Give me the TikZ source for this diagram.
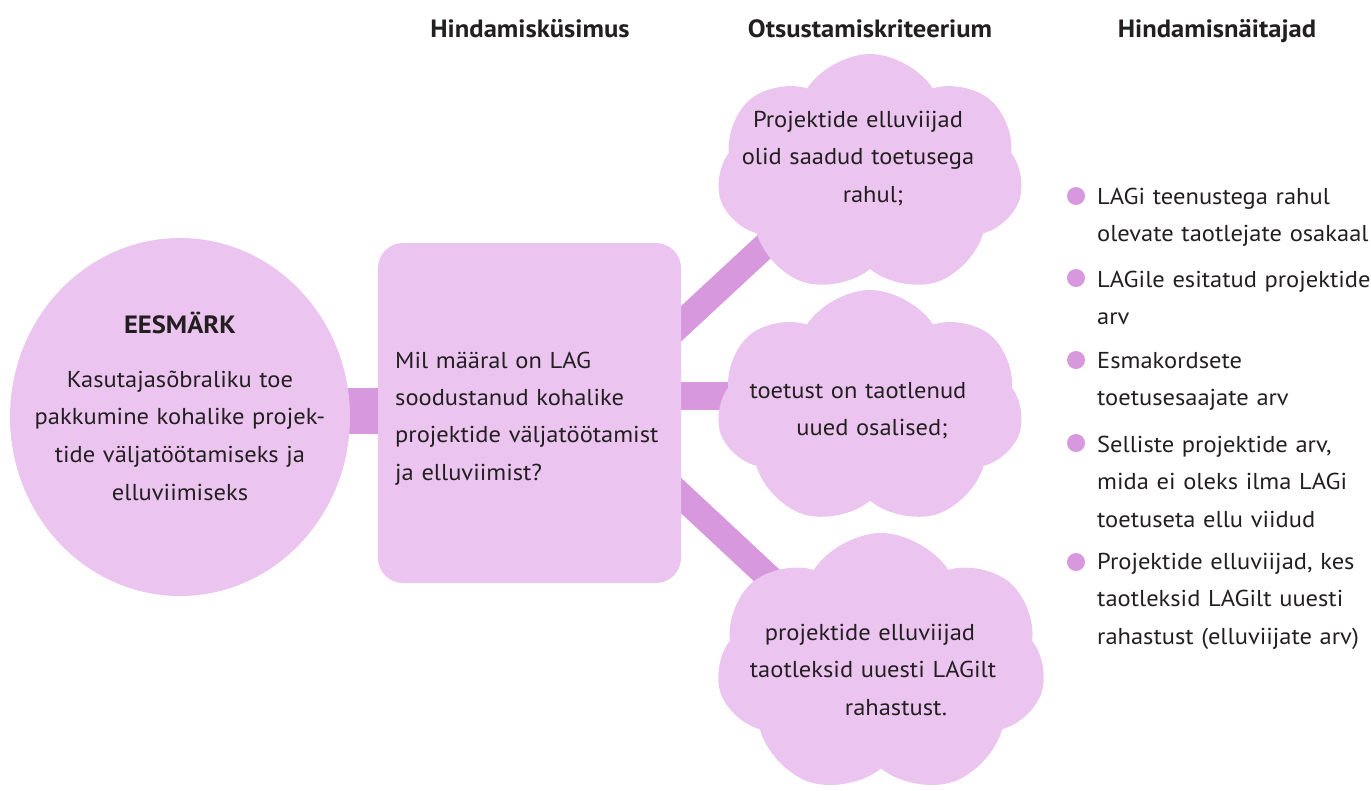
\documentclass[tikz,border=0pt]{standalone}
\usepackage{fontspec}
\setmainfont{PT Sans}[FakeStretch=1.065]
\usetikzlibrary{shapes.geometric,shapes.symbols,backgrounds}
\definecolor{lightpink}{HTML}{EBC5F0}
\definecolor{darkpink}{HTML}{D898DE}
\definecolor{ink}{HTML}{231F20}
\begin{document}
\begin{tikzpicture}[x=1pt,y=-1pt,
  shapefill/.style={fill=lightpink, draw=none, inner sep=0pt},
  conn/.style={draw=darkpink, line width=26pt},
  txt/.style={font=\fontsize{23}{37.5}\selectfont, text=ink, inner sep=0pt},
  hdr/.style={font=\fontsize{25}{30}\selectfont\bfseries, text=ink, inner sep=0pt},
  bulletdot/.style={circle, fill=darkpink, minimum size=18pt, inner sep=0pt},
  item/.style={txt, anchor=base west, text width=300pt, align=left},
  cloudbox/.style={cloud, cloud puffs=7, cloud puff arc=115, shapefill, aspect=1.3}
]
\useasboundingbox (0,0) rectangle (1371,790);

% headers
\node[hdr, anchor=base] (h1) at (530,37) {Hindamisküsimus};
\node[hdr, anchor=base] (h2) at (870,37) {Otsustamiskriteerium};
\node[hdr, anchor=base] (h3) at (1217,37) {Hindamisnäitajad};

% shapes
\node[ellipse, shapefill, minimum width=340pt, minimum height=358pt] (goal) at (180,417) {};
\node[rectangle, rounded corners=25pt, shapefill, minimum width=303pt, minimum height=340pt] (q) at (529.5,413) {};
\node[cloudbox, minimum width=306pt, minimum height=240pt] (c1) at (870,174) {};
\node[cloudbox, minimum width=306pt, minimum height=236pt] (c2) at (870,408) {};
\node[cloudbox, minimum width=329pt, minimum height=262pt] (c3) at (881,664) {};

% connectors
\begin{scope}[on background layer]
\draw[conn, line width=46pt] ([yshift=6pt]goal.center) -- ([yshift=2pt]q.center);
\draw[conn] ([xshift=70.5pt,yshift=14pt]q.center) -- ([xshift=-20pt,yshift=7pt]c1.center);
\draw[conn, line width=28pt] ([xshift=70.5pt,yshift=17pt]q.center) -- ([xshift=-20pt,yshift=12pt]c2.center);
\draw[conn] ([xshift=70.5pt,yshift=-7pt]q.center) -- ([xshift=-31pt,yshift=11pt]c3.center);
\end{scope}

% texts in shapes
\node[txt, anchor=base, text width=330pt, align=center, font=\fontsize{23}{37.7}\selectfont] (goalt) at (180,333)
  {{\fontsize{25}{30}\selectfont\bfseries EESMÄRK}\\[16.3pt]Kasutajasõbraliku toe\\pakkumine kohalike projek-\\tide väljatöötamiseks ja\\elluviimiseks};
\node[txt, anchor=base west, text width=290pt, align=left, font=\fontsize{23}{37.4}\selectfont] (qt) at (395,368)
  {Mil määral on LAG\\soodustanud kohalike\\projektide väljatöötamist\\ja elluviimist?};
\node[txt, anchor=base, text width=290pt, align=center] (c1t) at (858,127)
  {Projektide elluviijad\\olid saadud toetusega\\\hspace*{30pt}rahul;};
\node[txt, anchor=base, text width=290pt, align=center] (c2t) at (858,398)
  {toetust on taotlenud\\\hspace*{28pt}uued osalised;};
\node[txt, anchor=base, text width=300pt, align=center] (c3t) at (870,640)
  {projektide elluviijad\\\hspace*{6pt}taotleksid uuesti LAGilt\\\hspace*{52pt}rahastust.};

% indicator list
\node[bulletdot] (b1) at (1076,196) {};
\node[bulletdot] (b2) at (1076,278) {};
\node[bulletdot] (b3) at (1076,360) {};
\node[bulletdot] (b4) at (1076,443) {};
\node[bulletdot] (b5) at (1076,562) {};
\node[item] (i1) at (1097,204) {LAGi teenustega rahul\\olevate taotlejate osakaal};
\node[item] (i2) at (1097,287) {LAGile esitatud projektide\\arv};
\node[item] (i3) at (1097,368) {Esmakordsete\\toetusesaajate arv};
\node[item] (i4) at (1097,452) {Selliste projektide arv,\\mida ei oleks ilma LAGi\\toetuseta ellu viidud};
\node[item] (i5) at (1097,569) {Projektide elluviijad, kes\\taotleksid LAGilt uuesti\\rahastust (elluviijate arv)};
\end{tikzpicture}
\end{document}
